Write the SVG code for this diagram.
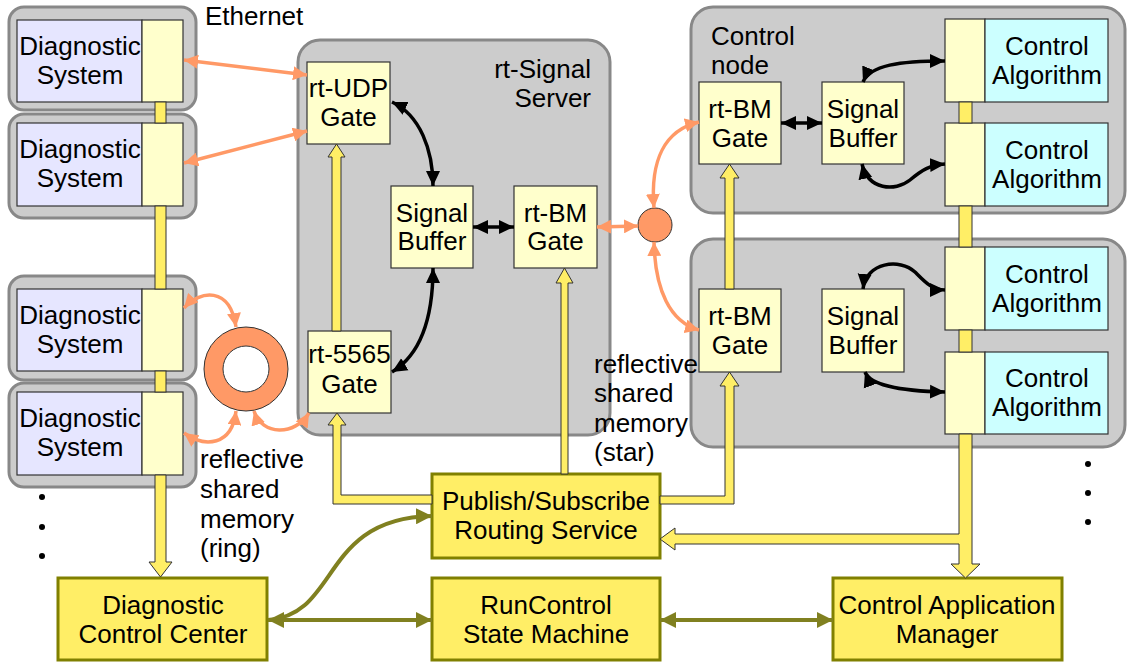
<svg xmlns="http://www.w3.org/2000/svg" width="1130" height="663" viewBox="0 0 1130 663">
<style>
text{font-family:"Liberation Sans",Arial,sans-serif;font-size:26px;fill:#000}
.c{text-anchor:middle}
.r{text-anchor:end}
.cont{fill:#cccccc;stroke:#888888;stroke-width:3}
.lav{fill:#e6e6ff;stroke:#333;stroke-width:1.2}
.ly{fill:#ffffcc;stroke:#333;stroke-width:1.2}
.cy{fill:#ccffff;stroke:#333;stroke-width:1.2}
.big{fill:#ffee66;stroke:#808000;stroke-width:3}
.pipe{fill:#ffee66;stroke:#333;stroke-width:1}
.blk{fill:none;stroke:#000;stroke-width:3.5;marker-start:url(#ab);marker-end:url(#ab)}
.org{fill:none;stroke:#ff9966;stroke-width:3.5;marker-start:url(#ao);marker-end:url(#ao)}
.olv{fill:none;stroke:#808020;stroke-width:4}
</style>
<defs>
<marker id="ab" markerUnits="userSpaceOnUse" markerWidth="18" markerHeight="16" refX="15" refY="8" orient="auto-start-reverse"><path d="M0,1 L15,8 L0,15 Z" fill="#000"/></marker>
<marker id="ao" markerUnits="userSpaceOnUse" markerWidth="16" markerHeight="14" refX="14" refY="7" orient="auto-start-reverse"><path d="M0,0 L14,7 L0,14 Z" fill="#ff9966"/></marker>
<marker id="av" markerUnits="userSpaceOnUse" markerWidth="18" markerHeight="16" refX="16" refY="8" orient="auto-start-reverse"><path d="M0,0 L16,8 L0,16 Z" fill="#808020"/></marker>
</defs>

<!-- containers -->
<g id="rt-signal-server">
<rect class="cont" x="298" y="40" width="312" height="395" rx="22"/>
<text class="r" x="591" y="78">rt-Signal</text>
<text class="r" x="591" y="107">Server</text>
</g>
<g id="control-node-1">
<rect class="cont" x="691" y="7" width="434" height="206" rx="22"/>
<text x="711" y="45">Control</text>
<text x="711" y="74">node</text>
</g>
<g id="control-node-2">
<rect class="cont" x="691" y="239" width="434" height="208" rx="22"/>
</g>

<!-- diagnostic systems -->
<g id="diag1">
<rect class="cont" x="9" y="7" width="187" height="103" rx="15"/>
<rect class="lav" x="17" y="20" width="125" height="82"/>
<rect class="ly" x="142" y="20" width="41" height="82"/>
<text class="c" x="80" y="55">Diagnostic</text>
<text class="c" x="80" y="84">System</text>
</g>
<g id="diag2">
<rect class="cont" x="9" y="114" width="187" height="104" rx="15"/>
<rect class="lav" x="17" y="123" width="125" height="83"/>
<rect class="ly" x="142" y="123" width="41" height="83"/>
<text class="c" x="80" y="158">Diagnostic</text>
<text class="c" x="80" y="187">System</text>
</g>
<g id="diag3">
<rect class="cont" x="9" y="276" width="187" height="104" rx="15"/>
<rect class="lav" x="17" y="289" width="125" height="82"/>
<rect class="ly" x="142" y="289" width="41" height="82"/>
<text class="c" x="80" y="324">Diagnostic</text>
<text class="c" x="80" y="353">System</text>
</g>
<g id="diag4">
<rect class="cont" x="9" y="383" width="187" height="104" rx="15"/>
<rect class="lav" x="17" y="392" width="125" height="83"/>
<rect class="ly" x="142" y="392" width="41" height="83"/>
<text class="c" x="80" y="427">Diagnostic</text>
<text class="c" x="80" y="456">System</text>
</g>

<!-- server nodes -->
<g id="rt-udp-gate">
<rect class="ly" x="307" y="62" width="83" height="82"/>
<text class="c" x="348.5" y="97">rt-UDP</text>
<text class="c" x="348.5" y="126">Gate</text>
</g>
<g id="server-signal-buffer">
<rect class="ly" x="391" y="186" width="82" height="82"/>
<text class="c" x="432" y="222">Signal</text>
<text class="c" x="432" y="250">Buffer</text>
</g>
<g id="server-rt-bm-gate">
<rect class="ly" x="514" y="186" width="83" height="82"/>
<text class="c" x="555.5" y="222">rt-BM</text>
<text class="c" x="555.5" y="250">Gate</text>
</g>
<g id="rt-5565-gate">
<rect class="ly" x="308" y="331" width="83" height="82"/>
<text class="c" x="349.5" y="363">rt-5565</text>
<text class="c" x="349.5" y="393">Gate</text>
</g>

<!-- control node 1 -->
<g id="cn1-rt-bm-gate">
<rect class="ly" x="699" y="82" width="82" height="82"/>
<text class="c" x="740" y="118">rt-BM</text>
<text class="c" x="740" y="147">Gate</text>
</g>
<g id="cn1-signal-buffer">
<rect class="ly" x="822" y="82" width="82" height="82"/>
<text class="c" x="863" y="118">Signal</text>
<text class="c" x="863" y="147">Buffer</text>
</g>
<g id="ca1">
<rect class="ly" x="945" y="19" width="40" height="83"/>
<rect class="cy" x="985" y="19" width="123" height="83"/>
<text class="c" x="1047" y="55">Control</text>
<text class="c" x="1047" y="84">Algorithm</text>
</g>
<g id="ca2">
<rect class="ly" x="945" y="123" width="40" height="83"/>
<rect class="cy" x="985" y="123" width="123" height="83"/>
<text class="c" x="1047" y="159">Control</text>
<text class="c" x="1047" y="188">Algorithm</text>
</g>

<!-- control node 2 -->
<g id="cn2-rt-bm-gate">
<rect class="ly" x="699" y="289" width="82" height="83"/>
<text class="c" x="740" y="325">rt-BM</text>
<text class="c" x="740" y="354">Gate</text>
</g>
<g id="cn2-signal-buffer">
<rect class="ly" x="822" y="289" width="82" height="83"/>
<text class="c" x="863" y="325">Signal</text>
<text class="c" x="863" y="354">Buffer</text>
</g>
<g id="ca3">
<rect class="ly" x="945" y="247" width="40" height="83"/>
<rect class="cy" x="985" y="247" width="123" height="83"/>
<text class="c" x="1047" y="283">Control</text>
<text class="c" x="1047" y="312">Algorithm</text>
</g>
<g id="ca4">
<rect class="ly" x="945" y="352" width="40" height="82"/>
<rect class="cy" x="985" y="352" width="123" height="82"/>
<text class="c" x="1047" y="387">Control</text>
<text class="c" x="1047" y="416">Algorithm</text>
</g>

<!-- shared memory -->
<g id="ring">
<circle cx="246" cy="369" r="32.5" fill="none" stroke="#ff9966" stroke-width="19"/>
<circle cx="246" cy="369" r="42" fill="none" stroke="#333" stroke-width="1"/>
<circle cx="246" cy="369" r="23" fill="#fff" stroke="#333" stroke-width="1"/>
</g>
<g id="star-hub">
<circle cx="655" cy="225" r="17" fill="#ff9966" stroke="#333" stroke-width="1"/>
</g>

<!-- bottom boxes -->
<g id="pubsub">
<rect class="big" x="432" y="474" width="228" height="84"/>
<text class="c" x="546" y="510">Publish/Subscribe</text>
<text class="c" x="546" y="539">Routing Service</text>
</g>
<g id="dcc">
<rect class="big" x="58" y="578" width="209" height="82"/>
<text class="c" x="163" y="614">Diagnostic</text>
<text class="c" x="163" y="643">Control Center</text>
</g>
<g id="runcontrol">
<rect class="big" x="432" y="578" width="228" height="82"/>
<text class="c" x="546" y="614">RunControl</text>
<text class="c" x="546" y="643">State Machine</text>
</g>
<g id="cam">
<rect class="big" x="833" y="578" width="229" height="82"/>
<text class="c" x="947" y="614">Control Application</text>
<text class="c" x="947" y="643">Manager</text>
</g>

<!-- connectors -->
<g id="connectors">
<!-- left diagnostic bus -->
<rect class="pipe" x="155" y="102" width="11" height="21"/>
<rect class="pipe" x="155" y="206" width="11" height="83"/>
<rect class="pipe" x="155" y="371" width="11" height="21"/>
<polygon class="pipe" points="155,475 166,475 166,562 172,562 160.5,577 149,562 155,562"/>
<!-- right control bus -->
<rect class="pipe" x="959" y="102" width="13" height="21"/>
<rect class="pipe" x="959" y="206" width="13" height="41"/>
<rect class="pipe" x="959" y="330" width="13" height="22"/>
<polygon class="pipe" points="959,434 972,434 972,564 980,564 965.5,578 951,564 959,564 959,544 675,544 675,550 660,539 675,528 675,534 959,534"/>
<!-- pub/sub pipes -->
<polygon class="pipe" points="432,495 341,495 341,425 346,425 337,413 328,425 333,425 333,504 432,504"/>
<polygon class="pipe" points="332,331 332,157 328,157 336.5,144 345,157 341,157 341,331"/>
<polygon class="pipe" points="561,474 561,283 556,283 564.5,268 573,283 568,283 568,474"/>
<polygon class="pipe" points="660,496 725,496 725,386 720,386 729.5,372 739,386 734,386 734,504 660,504"/>
<polygon class="pipe" points="725,289 725,178 720,178 729.5,164 739,178 734,178 734,289"/>
<!-- black arrows -->
<path class="blk" d="M392,102 C420,115 433,150 433,186"/>
<path class="blk" d="M433,268 C433,320 420,355 392,372"/>
<path class="blk" d="M473,227 L514,227"/>
<path class="blk" d="M781,123 L822,123"/>
<path class="blk" d="M863,82 C870,65 900,61 945,61"/>
<path class="blk" d="M862,164 C868,190 895,192 910,180 C922,170 930,165 945,164"/>
<path class="blk" d="M863,289 C866,262 900,258 915,272 C925,282 932,290 945,290"/>
<path class="blk" d="M865,372 C870,385 900,391 945,392"/>
<!-- orange arrows -->
<path class="org" d="M184,60 L307,75"/>
<path class="org" d="M184,163 L307,131"/>
<path class="org" d="M184,308 C200,290 230,286 236,327"/>
<path class="org" d="M184,433 C205,448 232,446 236,411"/>
<path class="org" d="M254,411 C262,436 295,436 309,413"/>
<path class="org" d="M597,227 L638,226"/>
<path class="org" d="M654,208 C650,160 665,130 699,122"/>
<path class="org" d="M654,242 C655,290 670,322 699,330"/>
<!-- olive arrows -->
<path class="olv" d="M268,620 C340,615 320,518 432,516" marker-end="url(#av)"/>
<path class="olv" d="M268,620 L432,620" marker-start="url(#av)" marker-end="url(#av)"/>
<path class="olv" d="M660,620 L833,620" marker-start="url(#av)" marker-end="url(#av)"/>
</g>

<!-- labels -->
<text x="205" y="25">Ethernet</text>
<text x="200" y="468">reflective</text>
<text x="200" y="498">shared</text>
<text x="200" y="528">memory</text>
<text x="200" y="557">(ring)</text>
<text x="594" y="373">reflective</text>
<text x="594" y="402">shared</text>
<text x="594" y="432">memory</text>
<text x="594" y="461">(star)</text>
<g fill="#000">
<circle cx="42" cy="497" r="3"/><circle cx="42" cy="527" r="3"/><circle cx="42" cy="556" r="3"/>
<circle cx="1088" cy="464" r="3"/><circle cx="1088" cy="493" r="3"/><circle cx="1088" cy="522" r="3"/>
</g>
</svg>
